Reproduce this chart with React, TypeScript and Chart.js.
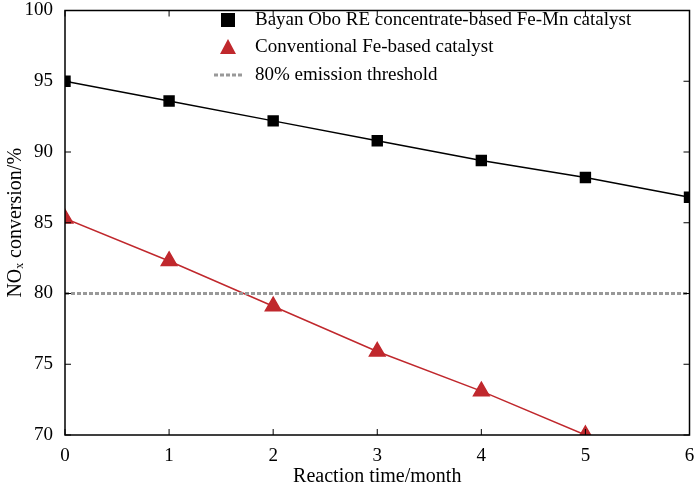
import React, { useEffect, useRef } from "react";
import { Chart, registerables } from "chart.js";
Chart.register(...registerables);

const months = [0, 1, 2, 3, 4, 5, 6];
const bayanObo = [95.0, 93.6, 92.2, 90.8, 89.4, 88.2, 86.8];
const conventional = [85.3, 82.3, 79.1, 75.9, 73.1, 70.0];
const threshold = [80, 80];
const xTicks = [0, 1, 2, 3, 4, 5, 6];
const yTicks = [70, 75, 80, 85, 90, 95, 100];
const FONT = "'Liberation Serif', 'DejaVu Serif', serif";
const RED = "#c0282d";

export default function App() {
  const ref = useRef<HTMLCanvasElement>(null);
  useEffect(() => {
    document.body.style.margin = "0";
    const frame = {
      id: "frame",
      afterDatasetsDraw(chart: any) {
        const { ctx, chartArea: a, scales } = chart;
        ctx.save();
        ctx.strokeStyle = "#000";
        ctx.lineWidth = 1.5;
        ctx.strokeRect(a.left, a.top, a.right - a.left, a.bottom - a.top);
        ctx.lineWidth = 1;
        for (const v of xTicks) {
          const x = scales.x.getPixelForValue(v);
          ctx.beginPath(); ctx.moveTo(x, a.bottom); ctx.lineTo(x, a.bottom - 6); ctx.stroke();
          ctx.beginPath(); ctx.moveTo(x, a.top); ctx.lineTo(x, a.top + 6); ctx.stroke();
        }
        for (const v of yTicks) {
          const y = scales.y.getPixelForValue(v);
          ctx.beginPath(); ctx.moveTo(a.left, y); ctx.lineTo(a.left + 6, y); ctx.stroke();
          ctx.beginPath(); ctx.moveTo(a.right, y); ctx.lineTo(a.right - 6, y); ctx.stroke();
        }
        ctx.font = `19px ${FONT}`;
        ctx.textBaseline = "middle";
        ctx.fillStyle = "#000";
        const lx = 228, tx = 255;
        let y = 20;
        ctx.fillRect(lx - 7, y - 7, 14, 14);
        ctx.fillText("Bayan Obo RE concentrate-based Fe-Mn catalyst", tx, y);
        y = 47;
        ctx.fillStyle = RED;
        ctx.beginPath(); ctx.moveTo(lx, y - 8); ctx.lineTo(lx + 8, y + 7); ctx.lineTo(lx - 8, y + 7); ctx.closePath(); ctx.fill();
        ctx.fillStyle = "#000";
        ctx.fillText("Conventional Fe-based catalyst", tx, y);
        y = 75;
        ctx.strokeStyle = "#999"; ctx.lineWidth = 3; ctx.setLineDash([4, 2]);
        ctx.beginPath(); ctx.moveTo(lx - 14, y); ctx.lineTo(lx + 14, y); ctx.stroke();
        ctx.setLineDash([]);
        ctx.fillText("80% emission threshold", tx, y);
        ctx.restore();
      },
    };
    const chart = new Chart(ref.current!, {
      type: "line",
      data: {
        datasets: [
          { data: [0, 6].map((x, i) => ({ x, y: threshold[i] })), borderColor: "#999", borderWidth: 3, borderDash: [4, 2], pointRadius: 0 },
          { data: months.map((x, i) => ({ x, y: bayanObo[i] })), borderColor: "#000", borderWidth: 1.5, pointStyle: "rect", pointRadius: 7, pointBackgroundColor: "#000", pointBorderColor: "#000" },
          { data: conventional.map((y, i) => ({ x: months[i], y })), borderColor: RED, borderWidth: 1.5, pointStyle: "triangle", pointRadius: 9, pointBackgroundColor: RED, pointBorderColor: RED },
        ],
      },
      plugins: [frame],
      options: {
        animation: false,
        responsive: false,
        layout: { padding: { top: 10, right: 3, left: 0, bottom: 0 } },
        plugins: { legend: { display: false }, tooltip: { enabled: false } },
        scales: {
          x: {
            type: "linear", min: 0, max: 6,
            afterFit: (s: any) => { s.height = 58; s.paddingRight = 0; s.paddingLeft = 0; },
            afterBuildTicks: (s: any) => { s.ticks = xTicks.map((v) => ({ value: v })); },
            grid: { display: false }, border: { display: false },
            ticks: { color: "#000", font: { family: FONT, size: 19 }, padding: 2 },
            title: { display: true, text: "Reaction time/month", color: "#000", font: { family: FONT, size: 20 }, padding: { top: 0 } },
          },
          y: {
            min: 70, max: 100,
            afterFit: (s: any) => { s.width = 65; s.paddingTop = 0; s.paddingBottom = 0; },
            afterBuildTicks: (s: any) => { s.ticks = yTicks.map((v) => ({ value: v })); },
            grid: { display: false }, border: { display: false },
            ticks: { color: "#000", font: { family: FONT, size: 19 }, padding: 4 },
            title: { display: true, text: "NOₓ conversion/%", color: "#000", font: { family: FONT, size: 20 }, padding: { bottom: 2 } },
          },
        },
      },
    });
    return () => chart.destroy();
  }, []);
  return <canvas ref={ref} width={700} height={493} style={{ display: "block" }} />;
}
